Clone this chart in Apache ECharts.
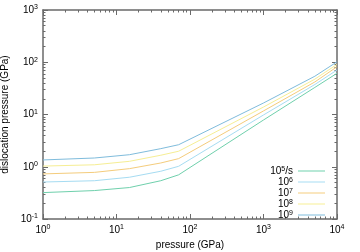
<!DOCTYPE html>
<html>
<head>
<meta charset="utf-8">
<script src="https://cdn.jsdelivr.net/npm/echarts@6/dist/echarts.min.js"></script>
<style>
html,body{margin:0;padding:0;background:#fff;}
#chart{width:360px;height:252px;}
</style>
</head>
<body>
<div id="chart"></div>
<script>
const pressure = [1, 5, 15, 40, 70, 1000, 5000, 10000];
const rate5 = [0.32, 0.35, 0.40, 0.54, 0.70, 7.85, 33, 61.5];
const rate6 = [0.51, 0.54, 0.63, 0.82, 1.02, 9.8, 37.5, 71];
const rate7 = [0.73, 0.78, 0.92, 1.18, 1.43, 11.7, 42, 82];
const rate8 = [1.03, 1.09, 1.27, 1.66, 1.98, 13.9, 47.5, 91];
const rate9 = [1.35, 1.47, 1.70, 2.22, 2.64, 16.6, 54, 102];
const seriesNames = ['10^5/s', '10^6', '10^7', '10^8', '10^9'];
const seriesValues = [rate5, rate6, rate7, rate8, rate9];
const seriesColors = ['#6fd0ac', '#a6dcf2', '#f4cc7c', '#f6ee94', '#7fbcdc'];

const FONT = '"Liberation Sans", Arial, sans-serif';
const AXIS_COLOR = '#6a6a6a';

const rich = {
  b: {fontSize: 10, fontFamily: FONT, color: '#000', lineHeight: 12},
  s: {fontSize: 7, fontFamily: FONT, color: '#000', lineHeight: 12, verticalAlign: 'top', padding: [0, 0, 4, 0]}
};

function powLabel(v) {
  const e = Math.round(Math.log10(v));
  return '{b|10}{s|' + e + '}';
}

function makeAxis(pos, min, max) {
  return {
    type: 'log', logBase: 10, min: min, max: max, position: pos,
    splitLine: {show: false},
    axisLine: {show: true, lineStyle: {color: AXIS_COLOR, width: 1.5}},
    axisTick: {show: true, inside: true, length: 5, lineStyle: {color: AXIS_COLOR, width: 1}},
    minorTick: {show: true, splitNumber: 9, length: 2.5, lineStyle: {color: AXIS_COLOR, width: 1}},
    axisLabel: {show: false}
  };
}

const xAxes = [
  Object.assign(makeAxis('bottom', 1, 10000), {
    axisLabel: {show: true, margin: 5, formatter: powLabel, rich: rich},
    name: 'pressure (GPa)', nameLocation: 'middle', nameGap: 19,
    nameTextStyle: {fontSize: 10, fontFamily: FONT, color: '#000'}
  }),
  makeAxis('top', 1, 10000)
];
const yAxes = [
  Object.assign(makeAxis('left', 0.1, 1000), {
    axisLabel: {show: true, margin: 5, formatter: powLabel, rich: rich},
    name: 'dislocation pressure (GPa)', nameLocation: 'middle', nameGap: 30,
    nameTextStyle: {fontSize: 10, fontFamily: FONT, color: '#000'}
  }),
  makeAxis('right', 0.1, 1000)
];

const legendRich = {
  b: {fontSize: 10, fontFamily: FONT, color: '#000', lineHeight: 10},
  s: {fontSize: 7, fontFamily: FONT, color: '#000', lineHeight: 10, verticalAlign: 'top', padding: [0, 0, 4, 0]}
};

function legendLabel(name) {
  const m = name.match(/^10\^(\d+)(.*)$/);
  return '{b|10}{s|' + m[1] + '}' + (m[2] ? '{b|' + m[2] + '}' : '');
}

const series = seriesNames.map((n, i) => ({
  name: n,
  type: 'line',
  xAxisIndex: 0,
  yAxisIndex: 0,
  symbol: 'none',
  smooth: false,
  lineStyle: {width: 1, color: seriesColors[i]},
  itemStyle: {color: seriesColors[i]},
  data: pressure.map((p, j) => [p, seriesValues[i][j]])
}));

const chart = echarts.init(document.getElementById('chart'), null, {renderer: 'canvas'});
chart.setOption({
  animation: false,
  backgroundColor: '#fff',
  grid: {left: 43, right: 23, top: 10, bottom: 33, containLabel: false, outerBoundsMode: 'none'},
  xAxis: xAxes,
  yAxis: yAxes,
  legend: {
    show: true,
    orient: 'vertical',
    right: 35,
    top: 166,
    padding: 0,
    itemGap: 0,
    itemWidth: 27,
    itemHeight: 1,
    icon: 'rect',
    align: 'right',
    selectedMode: false,
    formatter: legendLabel,
    textStyle: {rich: legendRich, fontSize: 10, fontFamily: FONT, color: '#000'},
    data: seriesNames
  },
  series: series
});
</script>
</body>
</html>
